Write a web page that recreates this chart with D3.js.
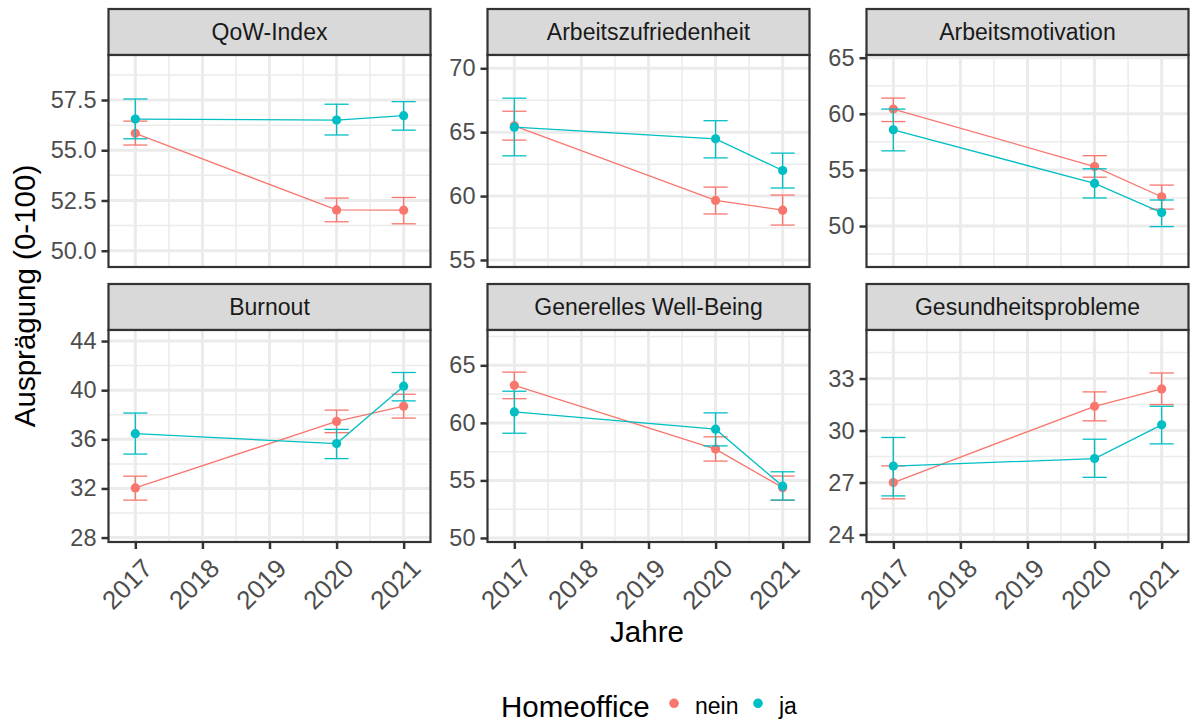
<!DOCTYPE html>
<html><head><meta charset="utf-8">
<script src="https://cdn.jsdelivr.net/npm/d3@7"></script>
<style>
body{margin:0;background:#fff}
text{font-family:"Liberation Sans",Arial,sans-serif}
</style>
</head><body>
<svg id="chart" width="1190" height="722"></svg>
<script>
// ---------- data ----------
const panels = ["QoW-Index", "Arbeitszufriedenheit", "Arbeitsmotivation",
                "Burnout", "Generelles Well-Being", "Gesundheitsprobleme"];
const years = [2017, 2020, 2021];
const xTicks = [2017, 2018, 2019, 2020, 2021];
const groups = ["nein", "ja"];
const groupColors = ["#F8766D", "#00BFC4"];

const neinMean = [[55.84, 52.03, 52.02], [65.50, 59.66, 58.90], [60.42, 55.30, 52.61],
                  [32.04, 37.46, 38.70], [63.26, 57.72, 54.37], [27.00, 31.40, 32.40]];
const neinLow  = [[55.26, 51.44, 51.34], [64.38, 58.60, 57.73], [59.31, 54.35, 51.51],
                  [31.05, 36.54, 37.73], [62.10, 56.68, 53.27], [26.06, 30.56, 31.50]];
const neinHigh = [[56.45, 52.62, 52.65], [66.64, 60.70, 60.08], [61.40, 56.27, 53.65],
                  [33.00, 38.38, 39.67], [64.41, 58.79, 55.38], [27.96, 32.23, 33.32]];
const jaMean   = [[56.55, 56.50, 56.72], [65.39, 64.48, 62.00], [58.57, 53.80, 51.20],
                  [36.46, 35.65, 40.33], [60.95, 59.45, 54.50], [27.95, 28.38, 30.33]];
const jaLow    = [[55.57, 55.76, 56.00], [63.15, 62.99, 60.63], [56.70, 52.50, 49.95],
                  [34.80, 34.43, 39.13], [59.10, 58.00, 53.30], [26.23, 27.30, 29.23]];
const jaHigh   = [[57.55, 57.29, 57.42], [67.66, 65.90, 63.36], [60.42, 55.10, 52.32],
                  [38.14, 36.81, 41.44], [62.75, 60.87, 55.75], [29.60, 29.50, 31.40]];

const yTicks = [[50, 52.5, 55, 57.5], [55, 60, 65, 70], [50, 55, 60, 65],
                [28, 32, 36, 40, 44], [50, 55, 60, 65], [24, 27, 30, 33]];
const yTickFormat = [".1f", "d", "d", "d", "d", "d"];
const yDomains = [[49.19, 59.74], [54.45, 71.04], [46.35, 65.24],
                  [27.64, 44.90], [49.65, 68.07], [23.57, 35.80]];
const xDomain = [2016.6, 2021.4];

// ---------- layout ----------
const colLeft = [108.5, 487.5, 866.5];
const rowTop = [9, 284];
const panelW = 322, stripH = 46, panelH = 212;
const capHalf = 0.18;

const svg = d3.select("#chart");
svg.append("rect").attr("width", 1190).attr("height", 722).attr("fill", "#fff");

const series = [
  {mean: neinMean, low: neinLow, high: neinHigh},
  {mean: jaMean, low: jaLow, high: jaHigh}
];

panels.forEach((name, i) => {
  const col = i % 3, row = Math.floor(i / 3);
  const g = svg.append("g").attr("transform", `translate(${colLeft[col]},${rowTop[row]})`);

  // strip
  g.append("rect").attr("x", 0).attr("y", 0).attr("width", panelW).attr("height", stripH)
    .attr("fill", "#d9d9d9").attr("stroke", "#333333").attr("stroke-width", 2.2);
  g.append("text").attr("x", panelW / 2).attr("y", stripH / 2).attr("dy", "0.36em")
    .attr("text-anchor", "middle").attr("font-size", 23).attr("fill", "#1a1a1a").text(name);

  const p = g.append("g").attr("transform", `translate(0,${stripH})`);
  const x = d3.scaleLinear().domain(xDomain).range([0, panelW]);
  const y = d3.scaleLinear().domain(yDomains[i]).range([panelH, 0]);

  p.append("rect").attr("width", panelW).attr("height", panelH).attr("fill", "#fff");

  // minor grid
  const yt = yTicks[i];
  const step = yt[1] - yt[0];
  const yMinor = yt.map(t => t - step / 2).concat([yt[yt.length - 1] + step / 2])
    .filter(v => v > yDomains[i][0] && v < yDomains[i][1]);
  const xMinor = d3.range(xDomain[0] - 0.1, xDomain[1] + 0.1, 1)
    .map(v => Math.floor(v) + 0.5).filter(v => v > xDomain[0] && v < xDomain[1]);
  p.selectAll(".ymin").data(yMinor).join("line")
    .attr("x1", 0).attr("x2", panelW).attr("y1", d => y(d)).attr("y2", d => y(d))
    .attr("stroke", "#ebebeb").attr("stroke-width", 1.5);
  p.selectAll(".xmin").data(xMinor).join("line")
    .attr("y1", 0).attr("y2", panelH).attr("x1", d => x(d)).attr("x2", d => x(d))
    .attr("stroke", "#ebebeb").attr("stroke-width", 1.5);
  // major grid
  p.selectAll(".ymaj").data(yt).join("line")
    .attr("x1", 0).attr("x2", panelW).attr("y1", d => y(d)).attr("y2", d => y(d))
    .attr("stroke", "#ebebeb").attr("stroke-width", 3);
  p.selectAll(".xmaj").data(xTicks).join("line")
    .attr("y1", 0).attr("y2", panelH).attr("x1", d => x(d)).attr("x2", d => x(d))
    .attr("stroke", "#ebebeb").attr("stroke-width", 3);

  // data
  series.forEach((s, gi) => {
    const pts = years.map((yr, k) => ({yr, m: s.mean[i][k], lo: s.low[i][k], hi: s.high[i][k]}));
    const color = groupColors[gi];
    p.append("path").datum(pts)
      .attr("d", d3.line().x(d => x(d.yr)).y(d => y(d.m)))
      .attr("fill", "none").attr("stroke", color).attr("stroke-width", 1.3);
    const eb = p.append("g").attr("stroke", color).attr("stroke-width", 1.3);
    eb.selectAll(".v").data(pts).join("line")
      .attr("x1", d => x(d.yr)).attr("x2", d => x(d.yr)).attr("y1", d => y(d.lo)).attr("y2", d => y(d.hi));
    eb.selectAll(".t").data(pts).join("line")
      .attr("x1", d => x(d.yr - capHalf)).attr("x2", d => x(d.yr + capHalf)).attr("y1", d => y(d.hi)).attr("y2", d => y(d.hi));
    eb.selectAll(".b").data(pts).join("line")
      .attr("x1", d => x(d.yr - capHalf)).attr("x2", d => x(d.yr + capHalf)).attr("y1", d => y(d.lo)).attr("y2", d => y(d.lo));
    p.selectAll(null).data(pts).join("circle")
      .attr("cx", d => x(d.yr)).attr("cy", d => y(d.m)).attr("r", 4.6).attr("fill", color);
  });

  // border
  p.append("rect").attr("width", panelW).attr("height", panelH)
    .attr("fill", "none").attr("stroke", "#333333").attr("stroke-width", 2.2);

  // y axis
  const ya = p.append("g").call(d3.axisLeft(y).tickValues(yt).tickFormat(d3.format(yTickFormat[i]))
    .tickSize(7).tickPadding(5));
  ya.select(".domain").remove();
  ya.selectAll(".tick line").attr("stroke", "#333333").attr("stroke-width", 2.5);
  ya.selectAll(".tick text").attr("fill", "#4d4d4d").attr("font-size", 23.5)
    .attr("font-family", "'Liberation Sans',Arial,sans-serif");

  // x axis only on bottom row
  if (row === 1) {
    const xa = p.append("g").attr("transform", `translate(0,${panelH})`)
      .call(d3.axisBottom(x).tickValues(xTicks).tickFormat(d3.format("d")).tickSize(7));
    xa.select(".domain").remove();
    xa.selectAll(".tick line").attr("stroke", "#333333").attr("stroke-width", 2.5);
    xa.selectAll(".tick text").attr("fill", "#4d4d4d").attr("font-size", 26)
      .attr("font-family", "'Liberation Sans',Arial,sans-serif")
      .attr("text-anchor", "end").attr("x", 0).attr("y", 0).attr("dy", "0.71em")
      .attr("transform", "translate(5,15) rotate(-45)");
  }
});

// axis titles
svg.append("text").attr("transform", "translate(35,296) rotate(-90)")
  .attr("text-anchor", "middle").attr("font-size", 29.5).attr("fill", "#000").text("Ausprägung (0-100)");
svg.append("text").attr("x", 647).attr("y", 641.5)
  .attr("text-anchor", "middle").attr("font-size", 29.5).attr("fill", "#000").text("Jahre");

// legend
const leg = svg.append("g");
leg.append("text").attr("x", 501).attr("y", 717).attr("font-size", 29.5).attr("fill", "#000").text("Homeoffice");
const legX = [674, 758];
groups.forEach((gname, gi) => {
  leg.append("circle").attr("cx", legX[gi]).attr("cy", 703.3).attr("r", 4.8).attr("fill", groupColors[gi]);
  leg.append("text").attr("x", legX[gi] + 21).attr("y", 713.5).attr("font-size", 23).attr("fill", "#000").text(gname);
});
</script>
</body></html>
